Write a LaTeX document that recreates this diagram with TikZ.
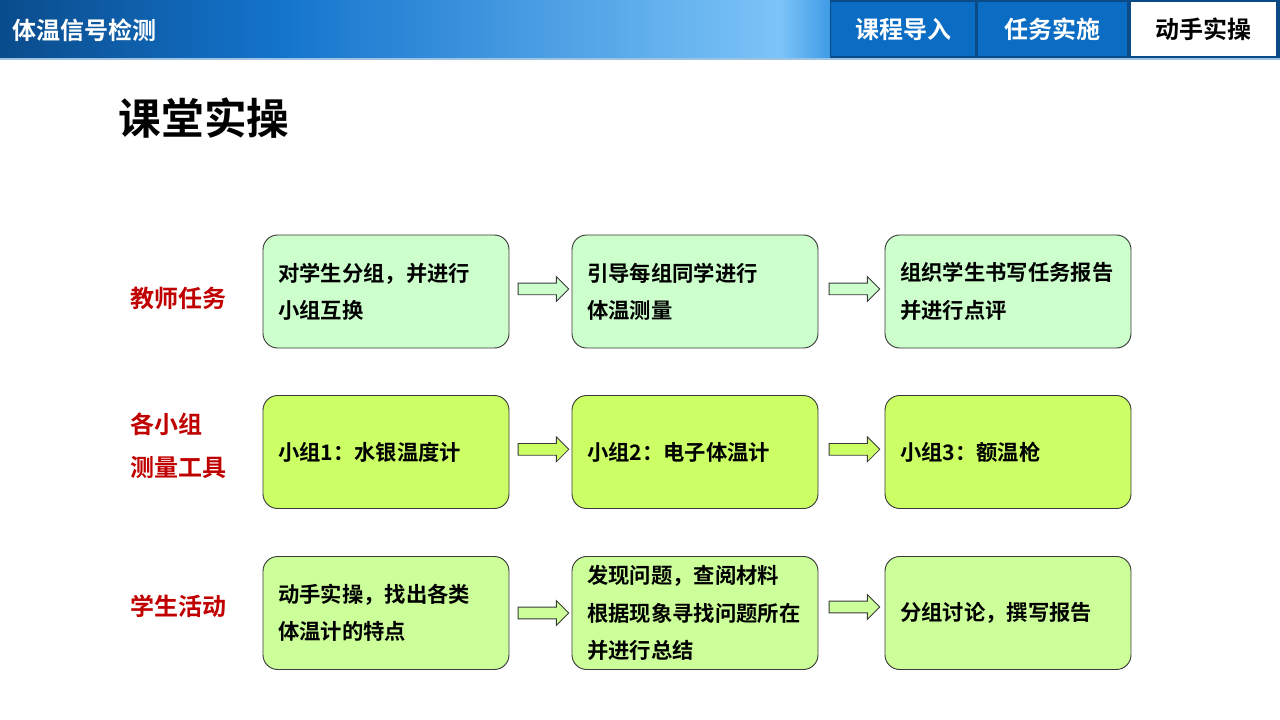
\documentclass[tikz,border=0pt]{standalone}
\usepackage{fontspec}
\setmainfont{Noto Sans CJK SC}[BoldFont={Noto Sans CJK SC Bold}]
\usetikzlibrary{shapes,arrows,calc}
\definecolor{rowA}{HTML}{CCFFCC}
\definecolor{rowB}{HTML}{CCFF66}
\definecolor{rowC}{HTML}{CCFF99}
\definecolor{boxline}{HTML}{3A3A3A}
\definecolor{labred}{HTML}{C00000}
\definecolor{hdA}{HTML}{0A4C8C}
\definecolor{hdB}{HTML}{1474CC}
\definecolor{hdC}{HTML}{7CC4F8}
\definecolor{hdD}{HTML}{3E9BE6}
\definecolor{tabbg}{HTML}{0A4A86}
\definecolor{tabfill}{HTML}{0A6CC2}
\definecolor{hdline}{HTML}{9CC3E4}
\pgfdeclarehorizontalshading{hdrshade}{100bp}{color(0bp)=(hdA); color(25bp)=(hdA); color(42bp)=(hdB); color(72bp)=(hdC); color(75bp)=(hdD); color(100bp)=(hdD)}

\begin{document}
\begin{tikzpicture}[x=0.75pt,y=-0.75pt,
  box/.style={rectangle,rounded corners=11pt,draw=boxline,line width=0.7pt,text width=162pt,inner xsep=11.25pt,minimum height=84.75pt,align=left,font=\fontsize{16}{28}\bfseries},
  blk/.style={single arrow,draw=boxline,line width=0.6pt,minimum height=38pt,single arrow head extend=4.9pt,inner xsep=0pt,inner ysep=4.1pt},
  lab/.style={anchor=west,text=labred,font=\fontsize{18}{22}\bfseries},
  tab/.style={fill=tabfill,text=white,minimum height=40.5pt,font=\fontsize{18}{22}\bfseries}]
\useasboundingbox (0,0) rectangle (1280,720);
% header
\shade[shading=hdrshade] (0,0) rectangle (830,58);
\fill[tabbg] (830,0) rectangle (1280,58);
\fill[hdline] (0,58) rectangle (1280,60);
\node[anchor=west,text=white,font=\fontsize{18}{22}\bfseries] (H) at (8,30) {体温信号检测};
\node[tab,minimum width=108pt] (K1) at (903,29) {课程导入};
\node[tab,minimum width=111.75pt] (K2) at (1052.5,29) {任务实施};
\node[tab,fill=white,text=black,minimum width=108.75pt] (K3) at (1203.5,29) {动手实操};
\node[anchor=west,font=\fontsize{32}{38}\bfseries] (title) at (114,118) {课堂实操};
% row labels
\node[lab] (LT) at (126,298) {教师任务};
\node[lab] (LG) at (126,424) {各小组};
\node[lab] (LM) at (126,467) {测量工具};
\node[lab] (LS) at (126,606) {学生活动};
% teacher row
\node[box,fill=rowA] (T1) at (386,291.5) {对学生分组，并进行\\小组互换};
\node[box,fill=rowA] (T2) at (695,291.5) {引导每组同学进行\\体温测量};
\node[box,fill=rowA] (T3) at (1008,291.5) {组织学生书写任务报告\\并进行点评};
% group row
\node[box,fill=rowB] (G1) at (386,452) {小组1：水银温度计};
\node[box,fill=rowB] (G2) at (695,452) {小组2：电子体温计};
\node[box,fill=rowB] (G3) at (1008,452) {小组3：额温枪};
% student row
\node[box,fill=rowC] (S1) at (386,613) {动手实操，找出各类\\体温计的特点};
\node[box,fill=rowC] (S2) at (695,613) {发现问题，查阅材料\\根据现象寻找问题所在\\并进行总结};
\node[box,fill=rowC] (S3) at (1008,613) {分组讨论，撰写报告};
% block arrows
\node[blk,fill=rowA,yshift=1.9pt] (a1) at ($(T1.east)!0.5!(T2.west)$) {};
\node[blk,fill=rowA,yshift=1.9pt] (a2) at ($(T2.east)!0.5!(T3.west)$) {};
\node[blk,fill=rowB,yshift=2pt] (a3) at ($(G1.east)!0.5!(G2.west)$) {};
\node[blk,fill=rowB,yshift=2pt] (a4) at ($(G2.east)!0.5!(G3.west)$) {};
\node[blk,fill=rowC] (a5) at ($(S1.east)!0.5!(S2.west)$) {};
\node[blk,fill=rowC,yshift=4.5pt] (a6) at ($(S2.east)!0.5!(S3.west)$) {};
\end{tikzpicture}
\end{document}
